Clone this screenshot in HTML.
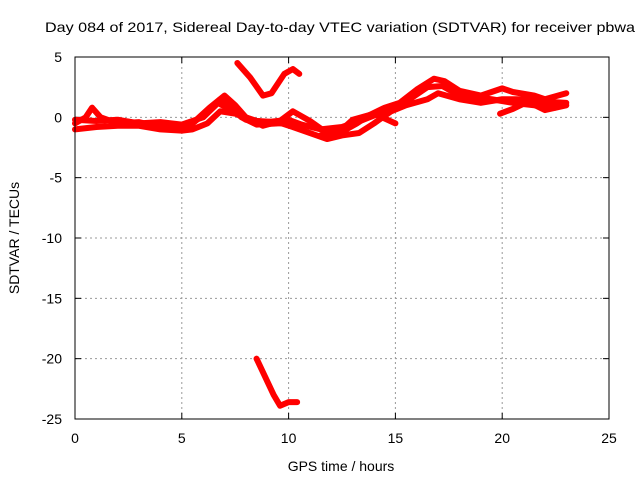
<!DOCTYPE html>
<html><head><meta charset="utf-8"><style>
body{margin:0;background:#fff;}
svg{display:block;font-family:"Liberation Sans",sans-serif;}
</style></head><body>
<svg id="chart" width="640" height="480">
<text x="45" y="32" font-size="14" textLength="590" lengthAdjust="spacingAndGlyphs">Day 084 of 2017, Sidereal Day-to-day VTEC variation (SDTVAR) for receiver pbwa</text>
<text x="341" y="471" text-anchor="middle" font-size="14">GPS time / hours</text>
<text transform="translate(19,238) rotate(-90)" text-anchor="middle" font-size="14">SDTVAR / TECUs</text>
<g id="grid"></g><g id="ticks"></g><g id="series"></g>
<rect x="75" y="57" width="534" height="362" fill="none" stroke="#000"/>
</svg>
<script>
const xTicks=[0,5,10,15,20,25];
const yTicks=[5,0,-5,-10,-15,-20,-25];
const seriesA=[[0,-0.5],[0.5,0],[0.8,0.8],[1.2,0],[2,-0.5],[3,-0.4],[4,-0.8],[5,-0.9],[5.5,-0.5],[6.2,0.5],[6.8,1.5],[7.2,1.2],[7.8,0],[8.5,-0.6],[9.5,-0.5],[10,-0.5]];
const seriesB=[[0,-1],[1,-0.8],[2,-0.7],[3,-0.7],[4,-1],[5,-1.1],[5.5,-1],[6.2,-0.5],[6.8,0.5],[7.5,0.3],[8.5,-0.3],[9.5,-0.4],[10.2,-0.8],[11,-1.3],[11.8,-1.8],[12.5,-1.5],[13.3,-1.3],[14,-0.5],[14.8,0.5],[15.5,1],[16.5,1.5],[17,2],[18,1.5],[19,1.2],[20,1.5],[21,1.5],[22,1.3],[23,1.2]];
const seriesC=[[5.5,-0.5],[6.3,0.8],[7,1.8],[7.5,1],[8,0],[8.8,-0.7],[9.6,-0.3],[10.2,0.5],[11,-0.3],[11.8,-1.3],[12.5,-1.2],[13.2,-0.5],[13.8,0.2],[14.5,0.8],[15.2,1.2],[16,2.3],[16.8,3.2],[17.3,3.0],[18,2.2],[19,1.8],[20,2.4],[20.5,2.1],[21.5,1.8],[22,1.5],[23,2.0]];
const seriesD=[[11.5,-1.5],[12.5,-1],[13,-0.2],[14,0.3],[15,-0.5]];
const seriesE=[[19.9,0.3],[20.5,0.7],[21.2,1.3],[22,0.6],[23,1.0]];
const seriesF=[[7.6,4.5],[8.2,3.3],[8.8,1.8],[9.2,2.0],[9.8,3.6],[10.2,4.0],[10.5,3.6]];
const seriesG=[[8.5,-20],[8.9,-21.5],[9.3,-23],[9.6,-23.9],[10,-23.6],[10.4,-23.6]];
const seriesH=[[0,-0.2],[1,-0.3],[2,-0.2],[3,-0.5],[4,-0.4],[5,-0.6],[6,0],[6.7,1.2],[7.3,0.6],[8,-0.2],[9,-0.4],[10,-0.2],[10.6,-0.6],[11.5,-1],[12.5,-0.8],[13.5,-0.2],[14.5,0.5],[15.5,1.3],[16.5,2.5],[17.2,2.6],[18,1.8],[19.5,1.5],[20.5,1.2],[21.5,1],[22.5,0.8]];
const allSeries=[seriesA,seriesB,seriesC,seriesD,seriesE,seriesF,seriesG,seriesH];
const X0=75,X1=609,Y0=57,Y1=419;
function xs(h){return X0+(h-0)/25*(X1-X0);}
function ys(v){return Y0+(5-v)/30*(Y1-Y0);}
const NS="http://www.w3.org/2000/svg";
const grid=document.getElementById('grid'),ticks=document.getElementById('ticks'),ser=document.getElementById('series');
function mk(tag,attrs,parent){const e=document.createElementNS(NS,tag);for(const k in attrs)e.setAttribute(k,attrs[k]);parent.appendChild(e);return e;}
xTicks.forEach(t=>{const x=xs(t);
 if(t>0&&t<25){const g=mk('line',{x1:x,x2:x,y1:Y0,y2:Y1,stroke:'#999','stroke-dasharray':'2,3'},grid);
 
 }
 const l=mk('text',{x:x,y:443,'text-anchor':'middle','font-size':'14'},ticks);l.textContent=t;
 
 
 mk('line',{x1:x,x2:x,y1:Y1,y2:Y1-6,stroke:'#000'},ticks);mk('line',{x1:x,x2:x,y1:Y0,y2:Y0+6,stroke:'#000'},ticks);});
yTicks.forEach(t=>{const y=ys(t);
 if(t<5&&t>-25){const g=mk('line',{x1:X0,x2:X1,y1:y,y2:y,stroke:'#999','stroke-dasharray':'2,3'},grid);
 
 }
 const l=mk('text',{x:62,y:y+5,'text-anchor':'end','font-size':'14'},ticks);l.textContent=t;
 
 
 mk('line',{x1:X0,x2:X0+6,y1:y,y2:y,stroke:'#000'},ticks);mk('line',{x1:X1,x2:X1-6,y1:y,y2:y,stroke:'#000'},ticks);});
allSeries.forEach((s,i)=>{const p=mk('polyline',{points:s.map(d=>xs(d[0])+','+ys(d[1])).join(' '),fill:'none',stroke:'#f00','stroke-width':'6','stroke-linejoin':'round','stroke-linecap':'round'},ser);
 
 });
</script>
</body></html>
